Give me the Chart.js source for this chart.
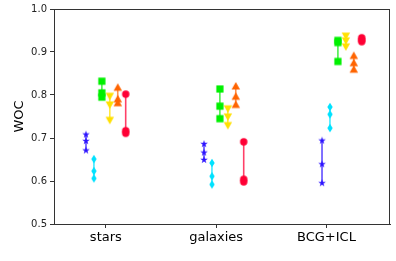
<!DOCTYPE html>
<html><head><meta charset="utf-8">
<script src="https://cdn.jsdelivr.net/npm/chart.js@4/dist/chart.umd.min.js"></script>
<style>html,body{margin:0;padding:0;background:#fff}#wrap{width:396px;height:261px}</style>
</head><body><div id="wrap"><canvas id="c" width="396" height="261"></canvas></div>
<script>
const categories = ["stars", "galaxies", "BCG+ICL"];
const yTicks = [0.5, 0.6, 0.7, 0.8, 0.9, 1.0];
const blueStar   = [[0.708, 0.693, 0.671], [0.686, 0.666, 0.649], [0.694, 0.639, 0.595]];
const cyanDiam   = [[0.651, 0.623, 0.606], [0.642, 0.611, 0.592], [0.772, 0.755, 0.723]];
const greenSq    = [[0.832, 0.805, 0.795], [0.814, 0.774, 0.745], [0.927, 0.922, 0.878]];
const yellowDown = [[0.797, 0.777, 0.741], [0.768, 0.749, 0.729], [0.937, 0.926, 0.912]];
const orangeUp   = [[0.818, 0.791, 0.782], [0.821, 0.797, 0.778], [0.892, 0.875, 0.860]];
const redCirc    = [[0.802, 0.717, 0.711], [0.691, 0.604, 0.598], [0.933, 0.928, 0.924]];

function marker(kind, color) {
  const s = 14, c = document.createElement('canvas');
  c.width = s; c.height = s;
  const g = c.getContext('2d');
  g.fillStyle = color; g.translate(s/2, s/2);
  g.beginPath();
  if (kind === 'star') {
    for (let k = 0; k < 10; k++) {
      const r = k % 2 ? 1.5 : 4.0, a = -Math.PI/2 + k*Math.PI/5;
      g.lineTo(r*Math.cos(a), r*Math.sin(a));
    }
  } else if (kind === 'diam') {
    g.moveTo(0,-4.2); g.lineTo(2.7,0); g.lineTo(0,4.2); g.lineTo(-2.7,0);
  } else if (kind === 'sq') {
    g.rect(-3.6,-3.6,7.2,7.2);
  } else if (kind === 'down') {
    g.moveTo(-4.2,-3.4); g.lineTo(4.2,-3.4); g.lineTo(0,4.0);
  } else if (kind === 'up') {
    g.moveTo(-4.2,3.4); g.lineTo(4.2,3.4); g.lineTo(0,-4.0);
  } else {
    g.arc(0,0,3.7,0,Math.PI*2);
  }
  g.closePath(); g.fill();
  return c;
}

const series = [
  {vals: blueStar,   kind: 'star', color: '#2b12ff', line: 'rgba(43,18,255,0.75)'},
  {vals: cyanDiam,   kind: 'diam', color: '#00e2ff', line: 'rgba(0,226,255,0.75)'},
  {vals: greenSq,    kind: 'sq',   color: '#00f000', line: 'rgba(0,230,0,0.7)'},
  {vals: yellowDown, kind: 'down', color: '#ffe000', line: 'rgba(255,224,0,0.75)'},
  {vals: orangeUp,   kind: 'up',   color: '#ff6400', line: 'rgba(255,100,0,0.7)'},
  {vals: redCirc,    kind: 'circ', color: '#ff0035', line: 'rgba(255,0,53,0.75)'}
];

const datasets = [];
series.forEach((s, j) => {
  const img = marker(s.kind, s.color);
  s.vals.forEach((arr, i) => {
    const x = i * 1.07 + (j - 2.5) * 0.072;
    datasets.push({
      data: arr.map(v => ({x: x, y: v})),
      showLine: true,
      borderColor: s.line,
      borderWidth: 1.6,
      pointStyle: img,
      pointRadius: 4,
      pointHoverRadius: 4,
      backgroundColor: s.color
    });
  });
});

const frame = {
  id: 'frame',
  afterDraw(chart) {
    const a = chart.chartArea, g = chart.ctx;
    g.save(); g.strokeStyle = '#333'; g.lineWidth = 1;
    g.strokeRect(Math.round(a.left)+0.5, Math.round(a.top)+0.5, Math.round(a.right-a.left)-1, Math.round(a.bottom-a.top));
    g.restore();
  }
};

new Chart(document.getElementById('c'), {
  type: 'scatter',
  data: {datasets},
  plugins: [frame],
  options: {
    responsive: false, animation: false,
    layout: {padding: {top: 4, right: 2, left: 0, bottom: 0}},
    plugins: {legend: {display: false}, tooltip: {enabled: false}},
    scales: {
      x: {
        type: 'linear', min: -0.47, max: 2.58,
        afterBuildTicks: ax => { ax.ticks = categories.map((_, i) => ({value: i})); },
        afterFit: ax => { ax.height = 37; },
        ticks: {callback: v => categories[v], color: '#000', font: {family: 'DejaVu Sans', size: 13}, padding: 2, maxRotation: 0, autoSkip: false},
        grid: {drawOnChartArea: false, drawTicks: true, tickLength: 4, color: '#333'},
        border: {display: true, color: '#333'}
      },
      y: {
        min: 0.5, max: 1.0,
        afterBuildTicks: ax => { ax.ticks = yTicks.map(v => ({value: v})); },
        afterFit: ax => { ax.width = 54; },
        ticks: {callback: v => v.toFixed(1), color: '#222', font: {family: 'DejaVu Sans', size: 10}, padding: 3},
        grid: {drawOnChartArea: false, drawTicks: true, tickLength: 4, color: '#333'},
        border: {display: true, color: '#333'},
        title: {display: true, text: 'WOC', color: '#000', font: {family: 'DejaVu Sans', size: 13}, padding: {top: 12, bottom: 4}}
      }
    }
  }
});
</script></body></html>
